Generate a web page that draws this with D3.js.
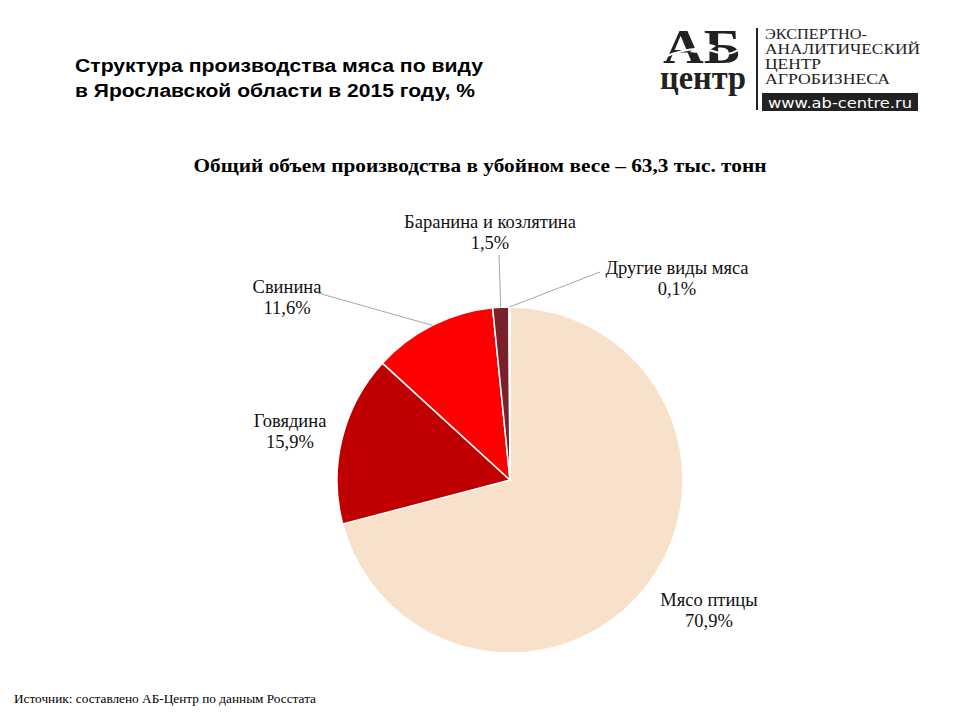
<!DOCTYPE html>
<html><head><meta charset="utf-8">
<script src="https://cdn.jsdelivr.net/npm/d3@7"></script>
<style>body{margin:0;background:#fff}svg{display:block}</style>
</head><body>
<svg id="chart" width="960" height="720"></svg>
<script>
const categories = ["Мясо птицы","Говядина","Свинина","Баранина и козлятина","Другие виды мяса"];
const values = [70.9, 15.9, 11.6, 1.5, 0.1];
const valueLabels = ["70,9%","15,9%","11,6%","1,5%","0,1%"];
const colors = ["#F8E1CA","#C00000","#FF0000","#7B1F2B","#A04040"];

// layout of label centres (x, baseline y of first line)
const labelPos = [[709,606],[290,427],[287,293],[490,228],[677,274]];
const leaderEnd = [null,null,[318,293],[499,255],[600,272]];

const svg = d3.select("#chart");
const cx = 510, cy = 480, R = 173;

// Titles
const title = svg.append("g").attr("font-family","'Liberation Sans', Arial, sans-serif").attr("font-weight","bold").attr("font-size",18).attr("fill","#000");
title.append("text").attr("x",75).attr("y",72).attr("textLength",408).attr("lengthAdjust","spacingAndGlyphs").text("Структура  производства мяса по виду");
title.append("text").attr("x",75).attr("y",97).attr("textLength",400).attr("lengthAdjust","spacingAndGlyphs").text("в Ярославской области  в 2015 году, %");

svg.append("text").attr("x",480).attr("y",172).attr("text-anchor","middle")
  .attr("font-family","'Liberation Serif', 'Times New Roman', serif").attr("font-weight","bold").attr("font-size",18)
  .attr("textLength",573).attr("lengthAdjust","spacingAndGlyphs")
  .text("Общий  объем производства  в убойном  весе – 63,3 тыс. тонн");

svg.append("text").attr("x",14).attr("y",703)
  .attr("font-family","'Liberation Serif', 'Times New Roman', serif").attr("font-size",12)
  .attr("textLength",302).attr("lengthAdjust","spacingAndGlyphs")
  .text("Источник:  составлено АБ-Центр  по данным Росстата");

// Logo
const logo = svg.append("g");
const lt = logo.append("text").attr("text-anchor","middle")
  .attr("font-family","'Liberation Serif', serif").attr("font-weight","bold").attr("fill","#222");
lt.append("tspan").attr("x",702).attr("y",63).attr("font-size",48)
  .attr("textLength",78).attr("lengthAdjust","spacingAndGlyphs").text("АБ");
lt.append("tspan").attr("x",703).attr("y",89).attr("font-size",34)
  .attr("textLength",86).attr("lengthAdjust","spacingAndGlyphs").text("центр");
logo.append("path").attr("d","M662,58 C680,50 700,46 716,52 C728,57 736,52 748,44")
  .attr("fill","none").attr("stroke","#fff").attr("stroke-width",2);
logo.append("path").attr("d","M690,52 C696,44 708,42 716,46 C708,52 698,54 690,52 Z").attr("fill","#fff");
logo.append("line").attr("x1",757).attr("x2",757).attr("y1",28).attr("y2",110).attr("stroke","#222").attr("stroke-width",2);
const logoLines = ["ЭКСПЕРТНО-","АНАЛИТИЧЕСКИЙ","ЦЕНТР","АГРОБИЗНЕСА"];
const logoW = [102,155,56,125];
logoLines.forEach((t,i)=>{
  logo.append("text").attr("x",765).attr("y",38.5+i*15.2)
    .attr("font-family","'Liberation Serif', serif").attr("font-size",14).attr("fill","#222")
    .attr("textLength",logoW[i]).attr("lengthAdjust","spacingAndGlyphs").text(t);
});
logo.append("rect").attr("x",762).attr("y",93).attr("width",156).attr("height",18).attr("fill","#222");
logo.append("text").attr("x",768).attr("y",107.5)
  .attr("font-family","'DejaVu Sans', sans-serif").attr("font-size",14).attr("fill","#fff")
  .attr("textLength",144).attr("lengthAdjust","spacingAndGlyphs").text("www.ab-centre.ru");

// Pie
const data = categories.map((c,i)=>({name:c, value:values[i], label:valueLabels[i], color:colors[i], i}));
const pie = d3.pie().value(d=>d.value).sort(null);
const arcs = pie(data);
const arc = d3.arc().innerRadius(0).outerRadius(R);
const g = svg.append("g").attr("transform",`translate(${cx},${cy})`);
g.selectAll("path").data(arcs).join("path")
  .attr("d",arc).attr("fill",d=>d.data.color)
  .attr("stroke","#fff").attr("stroke-width",1.5).attr("stroke-linejoin","round");

// Leader lines
arcs.forEach((a,i)=>{
  if(!leaderEnd[i]) return;
  const mid = (a.startAngle+a.endAngle)/2;
  const x0 = cx + R*Math.sin(mid), y0 = cy - R*Math.cos(mid);
  svg.append("line").attr("x1",x0).attr("y1",y0).attr("x2",leaderEnd[i][0]).attr("y2",leaderEnd[i][1])
    .attr("stroke","#a6a6a6").attr("stroke-width",1);
});

// Labels
const lab = svg.append("g").attr("font-family","'Liberation Serif', 'Times New Roman', serif").attr("font-size",18.5).attr("fill","#111").attr("text-anchor","middle");
data.forEach((d,i)=>{
  const [x,y] = labelPos[i];
  lab.append("text").attr("x",x).attr("y",y).text(d.name);
  lab.append("text").attr("x",x).attr("y",y+21).text(d.label);
});
</script>
</body></html>
